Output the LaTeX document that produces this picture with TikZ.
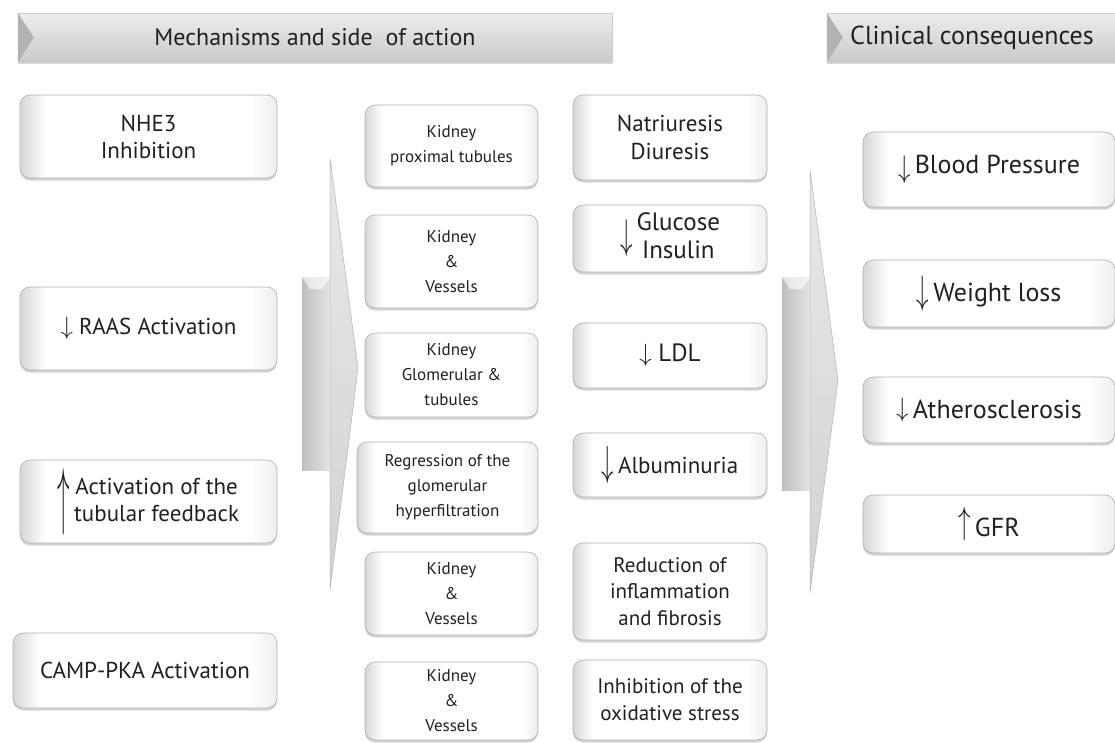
\documentclass[tikz,border=0pt]{standalone}
\usepackage{amsmath}
\usepackage{fontspec}
\setmainfont{PT Sans}
\usetikzlibrary{shadows}
\definecolor{boxline}{RGB}{175,175,175}
\definecolor{txtcol}{RGB}{35,31,32}
\pgfdeclarehorizontalshading{boxshade}{100bp}{color(0bp)=(gray!32); color(25bp)=(gray!32);
  color(30bp)=(white); color(70bp)=(white); color(75bp)=(gray!14); color(100bp)=(gray!14)}
\newcommand{\dn}{$\downarrow$}
% stretched arrow: glyph, vertical factor, raise
\newcommand{\tallarrow}[3]{\raisebox{#3}{\scalebox{1}[#2]{$#1$}}\,}

\begin{document}
\begin{tikzpicture}[x=1pt,y=-1pt,
  box/.style={draw=boxline,line width=.6pt,rounded corners=10pt,shading=boxshade,
    drop shadow={shadow xshift=0pt,shadow yshift=-2.5pt,opacity=.35,fill=gray},
    align=center,text=txtcol,inner sep=2pt},
  lbox/.style={box,minimum width=257pt,font=\fontsize{23}{27}\selectfont},
  kbox/.style={box,minimum width=173pt,font=\fontsize{17}{25}\selectfont},
  ebox/.style={box,minimum width=194pt,font=\fontsize{23}{28}\selectfont},
  cbox/.style={box,minimum width=252pt,font=\fontsize{26}{30}\selectfont},
  hdr/.style={draw=gray!40,line width=.5pt,top color=gray!14,bottom color=gray!42,
    drop shadow={shadow xshift=0pt,shadow yshift=-2pt,opacity=.3,fill=gray},
    text=txtcol,font=\fontsize{24}{28}\selectfont,minimum height=49pt}]
  \useasboundingbox (0,0) rectangle (1115,742);

  % headers
  \node[hdr,minimum width=594pt] (hdmech) at (315,37.5) {Mechanisms and side~ of action};
  \node[hdr,minimum width=290pt,font=\fontsize{26}{30}\selectfont] (hdclin) at (972,37.5)
     {Clinical consequences};
  \fill[gray!60] (hdmech.north west) -- ([xshift=16pt]hdmech.west) -- (hdmech.south west) -- cycle;
  \fill[gray!60] (hdclin.north west) -- ([xshift=16pt]hdclin.west) -- (hdclin.south west) -- cycle;

  % big arrows
  \shade[top color=gray!18,bottom color=gray!35,draw=gray!60,line width=.5pt]
     (330,158) -- (358,368) -- (330,590) -- cycle;
  \shade[left color=gray!50,right color=gray!22] (302,277) rectangle (330,470);
  \fill[white,opacity=.6] (302,277) -- (330,277) -- (322,289) -- (310,289) -- cycle;
  \shade[top color=gray!18,bottom color=gray!35,draw=gray!60,line width=.5pt]
     (810,170) -- (838,380) -- (810,593) -- cycle;
  \shade[left color=gray!50,right color=gray!22] (782,277) rectangle (810,490);
  \fill[white,opacity=.6] (782,277) -- (810,277) -- (802,289) -- (790,289) -- cycle;

  % mechanisms
  \node[lbox,minimum height=83pt] (nhe) at (148.5,136.5) {NHE3\\Inhibition};
  \node[lbox,minimum height=83pt] (raas) at (148.5,328.5) {\dn\ RAAS Activation};
  \node[lbox,minimum height=83pt] (tgf) at (148.5,501.5)
     {\tallarrow{\uparrow}{3.0}{-.5em}\begin{tabular}{@{}c@{}}Activation of the\\tubular feedback\end{tabular}};
  \node[lbox,minimum width=264pt,minimum height=75pt] (camp) at (145,670.5) {CAMP-PKA Activation};

  % sites of action
  \node[kbox,minimum height=82pt] (k1) at (451.5,146) {Kidney\\proximal tubules};
  \node[kbox,minimum height=93pt] (k2) at (451.5,261.5) {Kidney\\\&\\Vessels};
  \node[kbox,minimum height=84pt] (k3) at (451.5,375) {Kidney\\Glomerular \&\\tubules};
  \node[kbox,minimum width=181pt,minimum height=91pt] (k4) at (447.5,487.5)
     {Regression of the\\glomerular\\hyperfiltration};
  \node[kbox,minimum height=83pt] (k5) at (451.5,593.5) {Kidney\\\&\\Vessels};
  \node[kbox,minimum height=78pt] (k6) at (451.5,701) {Kidney\\\&\\Vessels};

  % effects
  \node[ebox,minimum height=85pt] (natr) at (670,137.5) {Natriuresis\\Diuresis};
  \node[ebox,minimum height=67pt,font=\fontsize{25}{28}\selectfont] (gluc) at (670,238.5)
     {\tallarrow{\downarrow}{1.67}{-.17em}\begin{tabular}{@{}c@{}}Glucose\\Insulin\end{tabular}};
  \node[ebox,minimum height=65pt,font=\fontsize{25}{28}\selectfont] (ldl) at (670,355.5) {\dn\ LDL};
  \node[ebox,minimum height=64pt] (alb) at (670,465) {\tallarrow{\downarrow}{1.7}{-.1em}Albuminuria};
  \node[ebox,minimum height=97pt,font=\fontsize{21}{26.5}\selectfont] (infl) at (670,591.5)
     {Reduction of\\inflammation\\and fibrosis};
  \node[ebox,minimum height=80pt,font=\fontsize{21}{27}\selectfont] (oxid) at (670,700)
     {Inhibition of the\\oxidative stress};

  % consequences
  \node[cbox,minimum height=75pt] (bp) at (989,169.5) {\tallarrow{\downarrow}{1.26}{-.13em}Blood Pressure};
  \node[cbox,minimum height=67pt] (wl) at (989,293.5) {\tallarrow{\downarrow}{1.6}{-.07em}Weight loss};
  \node[cbox,minimum height=66pt] (ath) at (989,410) {\tallarrow{\downarrow}{1.08}{.05em}Atherosclerosis};
  \node[cbox,minimum height=58pt] (gfr) at (989,524) {\tallarrow{\uparrow}{1.52}{.1em}GFR};
\end{tikzpicture}
\end{document}
